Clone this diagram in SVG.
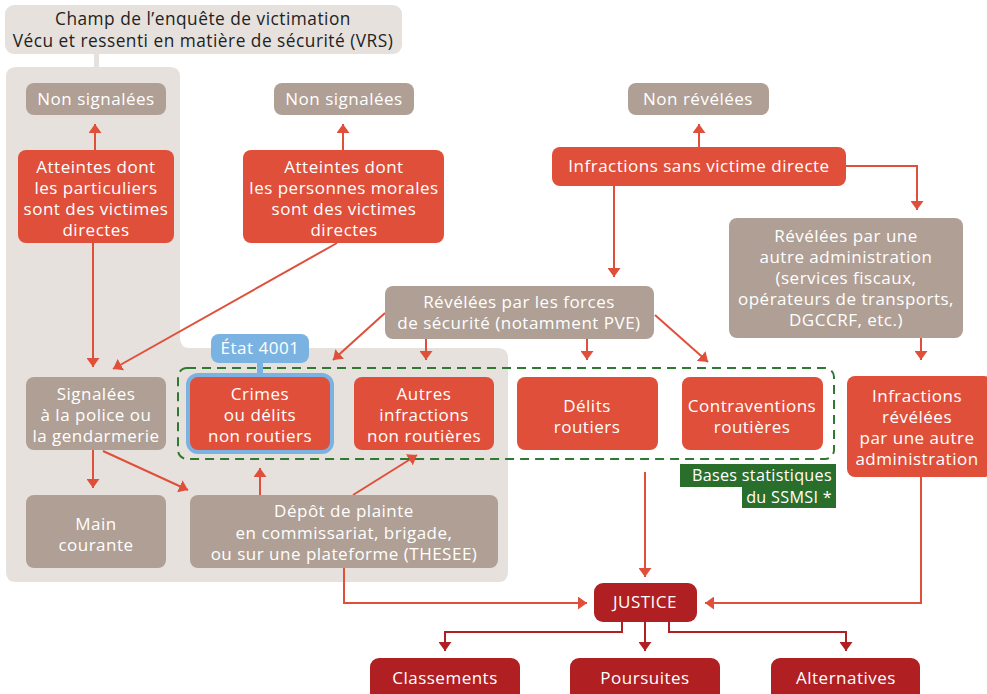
<svg xmlns="http://www.w3.org/2000/svg" width="987" height="694" viewBox="0 0 987 694">
<style>
text{font-family:"Open Sans","Noto Sans",sans-serif;font-size:17px;letter-spacing:0.5px;fill:#fff;text-anchor:middle}
.dark{fill:#222;font-size:17.3px}
.bs{font-size:16.2px;letter-spacing:0.3px;text-anchor:end}
.red{fill:#e04f3a}
.gray{fill:#b09f94}
.jr{fill:#b01f22}
.bg{fill:#e6e1dd}
.ln{fill:none;stroke:#e04f3a;stroke-width:2;marker-end:url(#ar)}
.lnj{fill:none;stroke:#b01f22;stroke-width:2;marker-end:url(#ard)}
</style>
<defs>
<marker id="ar" viewBox="0 0 9 13" refX="9" refY="6.5" markerWidth="9" markerHeight="13" markerUnits="userSpaceOnUse" orient="auto"><path d="M0,0 L9,6.5 L0,13 z" fill="#e04f3a"/></marker>
<marker id="ard" viewBox="0 0 9 13" refX="9" refY="6.5" markerWidth="9" markerHeight="13" markerUnits="userSpaceOnUse" orient="auto"><path d="M0,0 L9,6.5 L0,13 z" fill="#b01f22"/></marker>
</defs>
<rect width="987" height="694" fill="#fff"/>
<g id="region">
<path class="bg" d="M16,67 H170 Q180,67 180,77 V338 Q180,348 190,348 H498 Q508,348 508,358 V572 Q508,582 498,582 H16 Q6,582 6,572 V77 Q6,67 16,67 Z"/>
<rect class="bg" x="94" y="50" width="5" height="20"/>
</g>
<g id="title">
<rect class="bg" x="5" y="5" width="397" height="49" rx="9"/>
<text class="dark" x="203" y="25">Champ de l’enquête de victimation</text>
<text class="dark" x="203" y="47">Vécu et ressenti en matière de sécurité (VRS)</text>
</g>
<g id="connectors">
<path class="ln" d="M95,150 V124"/>
<path class="ln" d="M343,150 V124"/>
<path class="ln" d="M699,147 V124"/>
<path class="ln" d="M93,243 V367"/>
<path class="ln" d="M337,243 L113,369"/>
<path class="ln" d="M614,186 V277"/>
<path class="ln" d="M846,166 H917 V210"/>
<path class="ln" d="M921,338 V360"/>
<path class="ln" d="M385,313 L333,360"/>
<path class="ln" d="M426,339 V360"/>
<path class="ln" d="M587,339 V360"/>
<path class="ln" d="M655,315 L708,362"/>
<path class="ln" d="M93,450 V488"/>
<path class="ln" d="M103,451 L188,490"/>
<path class="ln" d="M260,495 V468"/>
<path class="ln" d="M353,495 L417,455"/>
<path class="ln" d="M344,568 V603 H587"/>
<path class="ln" d="M645,472 V577"/>
<path class="ln" d="M921,477 V603 H705"/>
<path class="lnj" d="M622,622 V632 H445 V651"/>
<path class="lnj" d="M645,622 V651"/>
<path class="lnj" d="M669,622 V632 H846 V651"/>
</g>
<g id="ssmsi-frame">
<rect x="178" y="368" width="656" height="91" rx="9" fill="none" stroke="#2e7a2e" stroke-width="2" stroke-dasharray="9 6"/>
</g>
<g id="non-signalees-1"><rect class="gray" x="26" y="83" width="140" height="32" rx="8"/><text x="96" y="105">Non signalées</text></g>
<g id="non-signalees-2"><rect class="gray" x="274" y="83" width="140" height="32" rx="8"/><text x="344" y="105">Non signalées</text></g>
<g id="non-revelees"><rect class="gray" x="628" y="83" width="141" height="32" rx="8"/><text x="698" y="105">Non révélées</text></g>
<g id="atteintes-particuliers"><rect class="red" x="18" y="150" width="156" height="93" rx="8"/>
<text x="96" y="173">Atteintes dont</text><text x="96" y="194">les particuliers</text><text x="96" y="215">sont des victimes</text><text x="96" y="236">directes</text></g>
<g id="atteintes-morales"><rect class="red" x="243" y="150" width="201" height="93" rx="8"/>
<text x="344" y="173">Atteintes dont</text><text x="344" y="194">les personnes morales</text><text x="344" y="215">sont des victimes</text><text x="344" y="236">directes</text></g>
<g id="sans-victime"><rect class="red" x="552" y="147" width="294" height="39" rx="8"/><text x="699" y="172">Infractions sans victime directe</text></g>
<g id="autre-admin"><rect class="gray" x="729" y="218" width="234" height="120" rx="8"/>
<text x="846" y="242">Révélées par une</text><text x="846" y="263">autre administration</text><text x="846" y="284">(services fiscaux,</text><text x="846" y="305">opérateurs de transports,</text><text x="846" y="326">DGCCRF, etc.)</text></g>
<g id="forces-securite"><rect class="gray" x="385" y="286" width="269" height="53" rx="8"/>
<text x="519" y="308">Révélées par les forces</text><text x="519" y="329">de sécurité (notamment PVE)</text></g>
<g id="etat-4001"><rect x="211" y="334" width="98" height="29" rx="8" fill="#7ab3e1"/><rect x="257" y="362" width="6" height="12" fill="#7ab3e1"/><text x="260" y="354">État 4001</text></g>
<g id="crimes-delits"><rect x="188" y="375" width="144" height="77" rx="10" fill="#e04f3a" stroke="#7ab3e1" stroke-width="4"/>
<text x="260" y="400">Crimes</text><text x="260" y="421">ou délits</text><text x="260" y="442">non routiers</text></g>
<g id="autres-infractions"><rect class="red" x="354" y="377" width="140" height="73" rx="8"/>
<text x="424" y="400">Autres</text><text x="424" y="421">infractions</text><text x="424" y="442">non routières</text></g>
<g id="delits-routiers"><rect class="red" x="517" y="377" width="141" height="73" rx="8"/>
<text x="587" y="412">Délits</text><text x="587" y="433">routiers</text></g>
<g id="contraventions"><rect class="red" x="682" y="377" width="141" height="73" rx="8"/>
<text x="752" y="412">Contraventions</text><text x="752" y="433">routières</text></g>
<g id="infractions-revelees"><rect class="red" x="847" y="376" width="145" height="101" rx="8"/>
<text x="917" y="402">Infractions</text><text x="917" y="423">révélées</text><text x="917" y="444">par une autre</text><text x="917" y="465">administration</text></g>
<g id="signalees"><rect class="gray" x="26" y="377" width="140" height="73" rx="8"/>
<text x="96" y="400">Signalées</text><text x="96" y="421">à la police ou</text><text x="96" y="442">la gendarmerie</text></g>
<g id="main-courante"><rect class="gray" x="26" y="495" width="140" height="73" rx="8"/>
<text x="96" y="530">Main</text><text x="96" y="551">courante</text></g>
<g id="depot-plainte"><rect class="gray" x="190" y="495" width="308" height="73" rx="8"/>
<text x="344" y="517">Dépôt de plainte</text><text x="344" y="539">en commissariat, brigade,</text><text x="344" y="560">ou sur une plateforme (THESEE)</text></g>
<g id="bases-ssmsi"><rect x="680" y="464" width="156" height="23" fill="#2a6e2c"/><rect x="742" y="486" width="94" height="22" fill="#2a6e2c"/>
<text class="bs" x="832" y="481">Bases statistiques</text><text class="bs" x="832" y="503">du SSMSI *</text></g>
<g id="justice"><rect class="jr" x="594" y="583" width="103" height="39" rx="9"/><text x="645" y="608">JUSTICE</text></g>
<g id="classements"><rect class="jr" x="370" y="658" width="150" height="44" rx="9"/><text x="445" y="684">Classements</text></g>
<g id="poursuites"><rect class="jr" x="570" y="658" width="150" height="44" rx="9"/><text x="645" y="684">Poursuites</text></g>
<g id="alternatives"><rect class="jr" x="771" y="658" width="149" height="44" rx="9"/><text x="846" y="684">Alternatives</text></g>
</svg>
